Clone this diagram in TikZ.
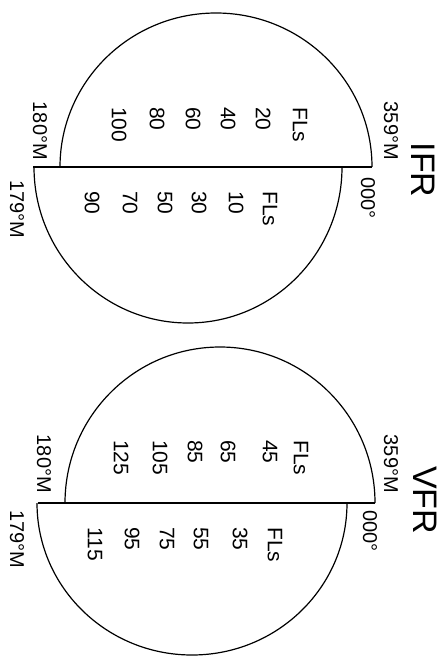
\documentclass[tikz,border=0pt]{standalone}
\usepackage{fontspec}
\setmainfont{Liberation Sans}
\usepackage{tikz}
\usetikzlibrary{positioning}

\tikzset{
  num/.style={rotate=-90, anchor=west, inner sep=0pt, font=\fontsize{21}{23}\selectfont},
  endlbl/.style={rotate=-90, inner sep=0pt, font=\fontsize{20}{22}\selectfont},
  ttl/.style={rotate=-90, inner sep=0pt, font=\fontsize{34}{36}\selectfont},
  rim/.style={line width=1.2pt},
  axis/.style={line width=2.4pt}
}

\begin{document}
\begin{tikzpicture}[x=1pt, y=-1pt]
\useasboundingbox (0,0) rectangle (447,663);

% IFR circle
\coordinate (ifrW) at (33,167);
\coordinate (ifrE) at (372,167);
\draw[axis] (ifrW) -- (ifrE);
\draw[rim] (ifrE) arc[start angle=0, end angle=-180, x radius=156, y radius=154];
\draw[rim] (342,167) arc[start angle=0, end angle=180, x radius=154, y radius=156];
\foreach \v/\x in {FLs/300, 20/263, 40/228, 60/193, 80/157, 100/119}
  \node[num] (ifrup\x) at (\x,107) {\v};
\foreach \v/\x in {FLs/270, 10/236, 30/199, 50/165, 70/130, 90/92}
  \node[num] (ifrdn\x) at (\x,191) {\v};
\node[endlbl, anchor=east] (ifrNE) at (391,160) {359°M};
\node[endlbl, anchor=west] (ifrSE) at (368,177) {000°};
\node[endlbl, anchor=east] (ifrNW) at (40,160) {180°M};
\node[endlbl, anchor=west] (ifrSW) at (17,180) {179°M};
\node[ttl] (ifr) at (423,170) {IFR};

% VFR circle
\coordinate (vfrW) at (38,503);
\coordinate (vfrE) at (375,503);
\draw[axis] (vfrW) -- (vfrE);
\draw[rim] (vfrE) arc[start angle=0, end angle=-180, x radius=155, y radius=156];
\draw[rim] (347,503) arc[start angle=0, end angle=180, x radius=155, y radius=152];
\foreach \v/\x in {FLs/301, 45/270, 65/228, 85/195, 105/160, 125/121}
  \node[num] (vfrup\x) at (\x,440) {\v};
\foreach \v/\x in {FLs/275, 35/240, 55/201, 75/167, 95/132, 115/95}
  \node[num] (vfrdn\x) at (\x,527) {\v};
\node[endlbl, anchor=east] (vfrNE) at (391,493) {359°M};
\node[endlbl, anchor=west] (vfrSE) at (370,510) {000°};
\node[endlbl, anchor=east] (vfrNW) at (44,493) {180°M};
\node[endlbl, anchor=west] (vfrSW) at (17,510) {179°M};
\node[ttl] (vfr) at (425,500) {VFR};
\end{tikzpicture}
\end{document}
